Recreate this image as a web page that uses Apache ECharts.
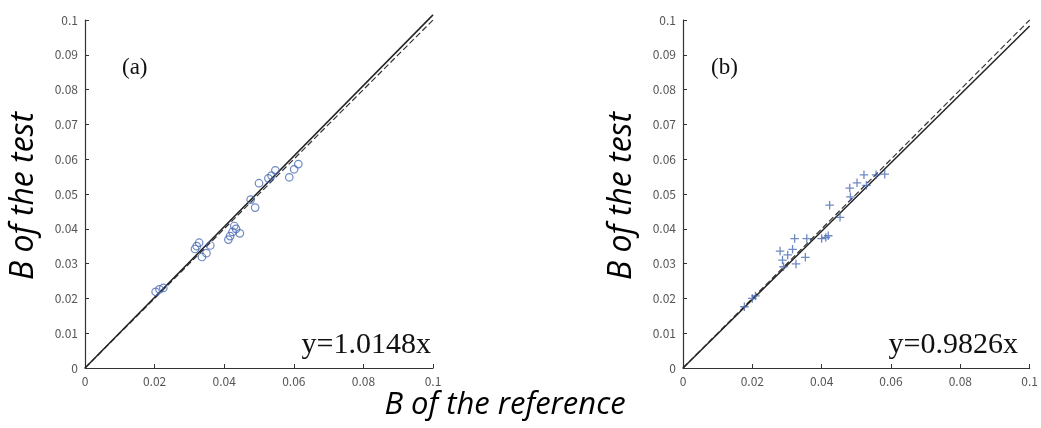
<!DOCTYPE html>
<html><head><meta charset="utf-8">
<script src="https://cdn.jsdelivr.net/npm/echarts@6/dist/echarts.min.js"></script>
<style>html,body{margin:0;padding:0;background:#fff}#c{width:1041px;height:428px}</style>
</head><body><div id="c"></div>
<script>
// Panel (a): reference vs test (circles)
const refA = [0.0203,0.0214,0.0225,0.0316,0.0321,0.0328,0.0336,0.0349,0.0360,0.0412,0.0417,0.0424,0.0429,0.0434,0.0445,0.0476,0.0489,0.0500,0.0527,0.0536,0.0547,0.0587,0.0601,0.0613];
const testA = [0.0219,0.0226,0.0230,0.0342,0.0350,0.0360,0.0319,0.0330,0.0352,0.0369,0.0379,0.0391,0.0408,0.0400,0.0387,0.0484,0.0461,0.0531,0.0545,0.0553,0.0568,0.0548,0.0571,0.0586];
// Panel (b): reference vs test (plus markers)
const refB = [0.0177,0.0200,0.0209,0.0280,0.0287,0.0302,0.0316,0.0290,0.0326,0.0322,0.0357,0.0353,0.0400,0.0412,0.0419,0.0423,0.0453,0.0481,0.0483,0.0502,0.0522,0.0529,0.0557,0.0582];
const testB = [0.0176,0.0200,0.0207,0.0336,0.0310,0.0325,0.0341,0.0291,0.0299,0.0372,0.0372,0.0318,0.0372,0.0375,0.0380,0.0468,0.0433,0.0517,0.0492,0.0532,0.0555,0.0525,0.0555,0.0557];
const slopeA = 1.0148, slopeB = 0.9826;
const fitLabelA = 'y=1.0148x', fitLabelB = 'y=0.9826x';
const panelLabels = ['(a)', '(b)'];
const yTitle = 'B of the test', xTitle = 'B of the reference';
const axisMax = 0.1;

const blue = '#4a6cb3';
const chart = echarts.init(document.getElementById('c'));
function axisCfg(i,interval){return {gridIndex:i,type:'value',min:0,max:axisMax,interval:interval,
  axisLine:{show:true,lineStyle:{color:'#333',width:1.2}},axisTick:{show:true,inside:true,length:4,lineStyle:{color:'#333'}},
  splitLine:{show:false},axisLabel:{color:'#555',fontSize:12,fontFamily:'Noto Sans CJK JP',margin:7,
  formatter:v=>String(+v.toFixed(2))}};}
function lines(i,slope){return [
  {type:'line',xAxisIndex:i,yAxisIndex:i,data:[[0,0],[axisMax,axisMax]],symbol:'none',clip:false,
   lineStyle:{color:'#333',width:1.2,type:[6,3]},silent:true,z:1},
  {type:'line',xAxisIndex:i,yAxisIndex:i,data:[[0,0],[axisMax,axisMax*slope]],symbol:'none',clip:false,
   lineStyle:{color:'#222',width:1.5},silent:true,z:2}];}
const option = {
  animation:false,
  backgroundColor:'#fff',
  grid:[{left:85,top:20,width:348,height:348},{left:683,top:20,width:349,height:348}],
  xAxis:[axisCfg(0,0.02),axisCfg(1,0.02)],
  yAxis:[axisCfg(0,0.01),axisCfg(1,0.01)],
  series:[
    ...lines(0,slopeA),
    {type:'scatter',xAxisIndex:0,yAxisIndex:0,data:refA.map((x,k)=>[x,testA[k]]),symbol:'circle',symbolSize:7.5,
     itemStyle:{color:'rgba(0,0,0,0)',borderColor:blue,borderWidth:1.2},z:3},
    ...lines(1,slopeB),
    {type:'scatter',xAxisIndex:1,yAxisIndex:1,data:refB.map((x,k)=>[x,testB[k]]),symbol:'path://M0,5L10,5M5,0L5,10',symbolSize:8.5,
     itemStyle:{color:'none',borderColor:blue,borderWidth:1.3},z:3}
  ],
  graphic:[
    {type:'text',left:122,top:56,style:{text:panelLabels[0],font:'23px "Liberation Serif"',fill:'#111'}},
    {type:'text',left:711,top:56,style:{text:panelLabels[1],font:'23px "Liberation Serif"',fill:'#111'}},
    {type:'text',x:431,y:360,style:{text:fitLabelA,font:'30px "Liberation Serif"',fill:'#111',textAlign:'right',textVerticalAlign:'bottom'}},
    {type:'text',x:1018,y:360,style:{text:fitLabelB,font:'30px "Liberation Serif"',fill:'#111',textAlign:'right',textVerticalAlign:'bottom'}},
    {type:'text',x:24,y:196,rotation:Math.PI/2,style:{text:yTitle,font:'italic 32px "Open Sans"',fill:'#000',textAlign:'center',textVerticalAlign:'middle'}},
    {type:'text',x:622,y:196,rotation:Math.PI/2,style:{text:yTitle,font:'italic 32px "Open Sans"',fill:'#000',textAlign:'center',textVerticalAlign:'middle'}},
    {type:'text',x:505,y:405,style:{text:xTitle,font:'italic 31px "Open Sans"',fill:'#000',textAlign:'center',textVerticalAlign:'middle'}}
  ]
};
chart.setOption(option);
</script></body></html>
